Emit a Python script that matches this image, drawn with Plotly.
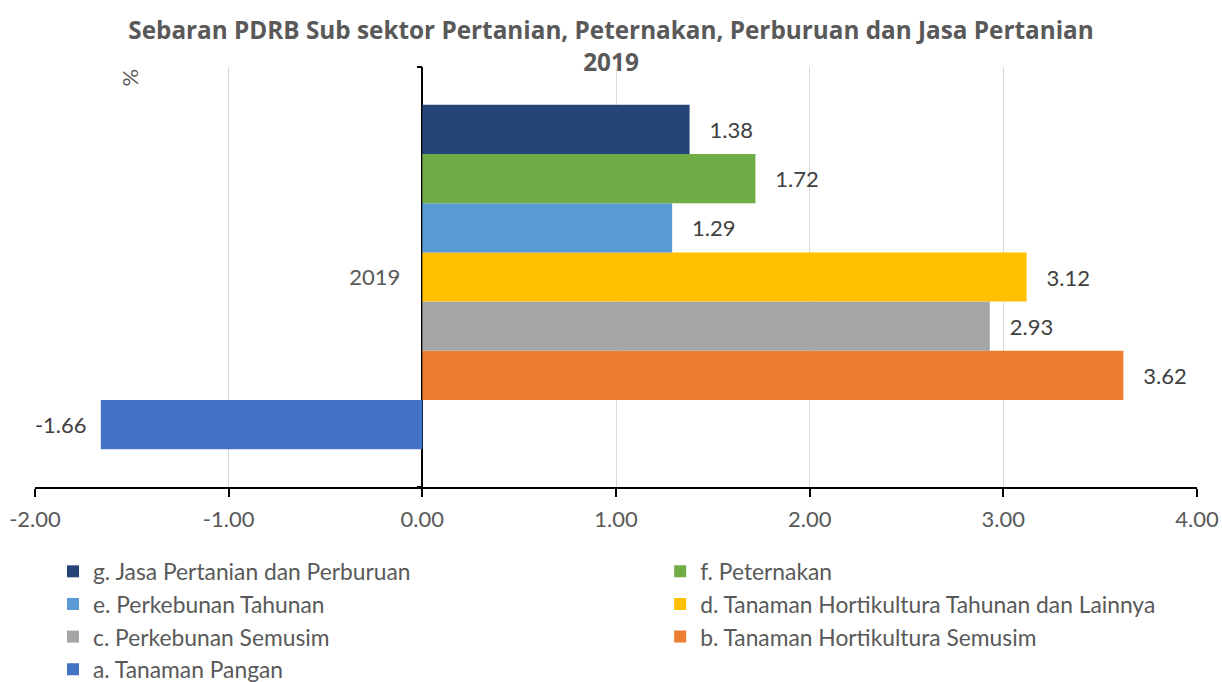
import plotly.graph_objects as go

categories = ["2019"]
series_names = [
    "a. Tanaman Pangan",
    "b. Tanaman Hortikultura Semusim",
    "c. Perkebunan Semusim",
    "d. Tanaman Hortikultura Tahunan dan Lainnya",
    "e. Perkebunan Tahunan",
    "f. Peternakan",
    "g. Jasa Pertanian dan Perburuan",
]
series_values = [-1.66, 3.62, 2.93, 3.12, 1.29, 1.72, 1.38]
series_colors = ["#4472C4", "#ED7D31", "#A5A5A5", "#FFC000", "#5B9BD5", "#70AD47", "#264478"]
legend_of = ["legend", "legend2", "legend", "legend2", "legend", "legend2", "legend"]
x_tickvals = [-2, -1, 0, 1, 2, 3, 4]
x_ticktext = ["-2.00", "-1.00", "0.00", "1.00", "2.00", "3.00", "4.00"]

FONT = "Lato"
GRAY = "#595959"
NB_POS = "\u00a0" * 3
NB_NEG = "\u00a0" * 2

fig = go.Figure()
for name, val, col, lg in zip(series_names, series_values, series_colors, legend_of):
    txt = f"{val:.2f}"
    txt = (NB_POS + txt) if val >= 0 else (txt + NB_NEG)
    fig.add_trace(go.Bar(
        y=categories, x=[val], name=name, orientation="h",
        marker=dict(color=col, line=dict(width=0)),
        text=[txt], texttemplate="%{text}", textposition="outside",
        textfont=dict(family=FONT, size=22, color="#404040"),
        cliponaxis=False, legend=lg,
        hoverinfo="skip",
    ))

fig.update_layout(
    width=1222, height=682,
    margin=dict(l=35, r=25, t=67, b=195, autoexpand=False),
    paper_bgcolor="white", plot_bgcolor="white",
    barmode="group", bargap=0.18, bargroupgap=0,
    font=dict(family=FONT, color=GRAY),
    title=dict(
        text="<b>Sebaran PDRB Sub sektor Pertanian, Peternakan, Perburuan dan Jasa Pertanian<br>2019</b>",
        x=0.5, xref="container", xanchor="center",
        y=1 - 39 / 682, yref="container", yanchor="top",
        font=dict(family="Open Sans", size=24.3, color=GRAY),
    ),
    xaxis=dict(
        range=[-2, 4], tickvals=x_tickvals, ticktext=x_ticktext,
        showgrid=True, gridcolor="#D9D9D9", gridwidth=1,
        zeroline=True, zerolinecolor="black", zerolinewidth=2,
        showline=True, linecolor="black", linewidth=2,
        ticks="outside", ticklen=8, tickwidth=2, tickcolor="black",
        ticklabelstandoff=4,
        tickfont=dict(family=FONT, size=22, color=GRAY),
    ),
    yaxis=dict(
        type="category", anchor="free", position=(0 - (-2)) / 6,
        showline=False, showgrid=False, zeroline=False,
        ticks="outside", tickson="boundaries", ticklen=5, tickwidth=2, tickcolor="black",
        ticklabelstandoff=22,
        tickfont=dict(family=FONT, size=22, color=GRAY),
    ),
    legend=dict(
        orientation="v", x=0.0155, xanchor="left", y=-0.150, yanchor="top",
        traceorder="reversed",
        font=dict(family=FONT, size=22.8, color=GRAY), bgcolor="rgba(0,0,0,0)",
    ),
    legend2=dict(
        orientation="v", x=0.538, xanchor="left", y=-0.150, yanchor="top",
        traceorder="reversed",
        font=dict(family=FONT, size=22.8, color=GRAY), bgcolor="rgba(0,0,0,0)",
    ),
    annotations=[dict(
        text="%", x=0.0672, y=1.0, xref="paper", yref="paper",
        showarrow=False, textangle=-90,
        font=dict(family=FONT, size=22, color=GRAY),
    )],
    showlegend=True,
)

fig.write_html(
    "out.html",
    config={"displayModeBar": False},
    post_script="document.body.style.margin='0';document.body.style.overflow='hidden';",
)
